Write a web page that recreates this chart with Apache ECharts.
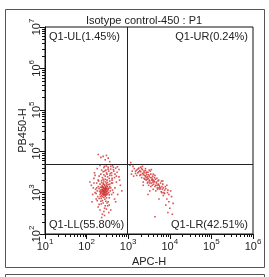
<!DOCTYPE html>
<html>
<head>
<meta charset="utf-8">
<script src="https://cdn.jsdelivr.net/npm/echarts@6/dist/echarts.min.js"></script>
<style>
    html, body {
        margin: 0;
        padding: 0;
        background: #fff;
    }
    #dot_ref {
        width: 269px;
        height: 277px;
    }
</style>
</head>
<body>
<div id="dot_ref"></div>
<script>
// 标题和坐标轴
const plotTitle = 'Isotype control-450 : P1';
const xName = 'APC-H';
const yName = 'PB450-H';
const xRange = [10, 1000000];
const yRange = [100, 10000000];
const minorSteps = [2, 3, 4, 5, 6, 7, 8, 9];

// 十字门
const gateX = 950;
const gateY = 4900;
const quadNames = ['Q1-UL', 'Q1-UR', 'Q1-LL', 'Q1-LR'];
const quadPct = ['1.45', '0.24', '55.80', '42.51'];

// Q1-LL 细胞
const llPoints = [
    [260,1100],[240,980],[280,1200],[300,1050],[220,1150],[270,900],[250,1300],[310,1250],[230,850],[290,1400],
    [265,1020],[245,1180],[275,1080],[255,940],[285,1320],[215,1010],[325,1120],[235,1450],[305,880],[260,760],
    [200,1250],[340,1000],[270,1550],[225,720],[295,960],[250,1600],[315,1380],[210,900],[280,820],[240,1080],
    [265,1230],[290,1130],[230,1320],[255,1050],[320,940],[205,1080],[345,1280],[275,690],[245,1380],[300,1180],
    [260,870],[285,1000],[235,1180],[270,1470],[310,1050],[220,960],[250,1140],[295,1270],[240,800],[330,1200],
    [255,1700],[275,1260],[225,1040],[290,880],[265,950],[215,1350],[305,1500],[245,910],[280,1150],[260,1320],
    [280,2100],[320,2400],[260,2700],[350,2200],[300,3000],[400,2600],[240,2300],[450,3300],[380,3700],[290,3500],
    [330,4100],[500,3900],[270,4300],[420,4500],[360,1900],[230,1950],[310,2800],[470,2300],[250,3200],[550,4200],
    [200,2500],[340,3300],[410,2000],[600,3600],[180,3800],[290,1800],[370,2900],[440,4100],[210,4500],[320,1750],
    [130,1500],[150,2200],[140,900],[165,1200],[120,1800],[170,700],[155,3000],[135,600],[175,1700],[160,2600],
    [145,1300],[480,1300],[560,900],[520,1800],[650,1500],[470,700],[600,2400],[700,1100],[540,3100],[500,600],
    [620,2000],[250,560],[280,480],[220,620],[300,400],[200,520],[330,600],[260,350],[190,450],[350,500],
    [240,300],[310,560],[270,420],[180,640],[380,380],[230,250],[290,620],
    [180,1100],[190,1400],[380,1300],[400,900],[360,1600],[170,950],[420,1150],[185,800],[395,1700],[350,750],
    [210,1600],[230,1750],[330,1550],[370,1100],[195,1900],[260,1900],[300,1650],[240,640],[350,880],[200,720],
    [280,2500],[310,2000],[250,2100],[360,2600],[220,2800],[270,3300],[400,3000],[330,3700],[300,4400],[440,3600],
    [230,3500],[380,4300],[260,4000],[480,2800],[520,2500],[420,1700],[440,1000],[160,1000],[150,1700],[190,2000],
    [225,530],[320,480],[210,380],[270,280],[340,330],[300,750],[215,800],[360,1400],[175,1300],[410,2200]
];

// Q1-UL 细胞
const ulPoints = [
    [250,7500],[300,7900],[220,7100],[330,6800],[280,6200],[360,5600],[190,8300]
];

// Q1-LR 细胞
const lrPoints = [
    [1600,3500],[1800,3900],[2000,3200],[2200,3600],[1500,2900],[2400,3000],[2600,3400],[1900,2600],[2800,2700],[3000,3100],
    [2100,2300],[3200,2500],[2500,2100],[3500,2800],[2700,2000],[3000,2200],[3300,1900],[3700,2300],[4000,2000],[2900,1700],
    [3600,1700],[4200,1800],[3100,1500],[4500,2100],[3800,1500],[4800,1700],[5200,1900],[4400,1400],[5500,1500],[6000,1700],
    [5000,1300],[6500,1400],[5800,1200],[7000,1300],[6200,1050],[7500,1150],[4600,1100],[8000,1250],[2300,2700],[1700,3000],
    [2000,4100],[2600,3800],[3400,3300],[1400,3800],[2300,1800],[3900,2500],[4300,2300],[2900,2400],[3500,1400],[5300,1600],
    [4100,1600],[2800,3100],[1900,3400],[3200,2000],[3700,2000],[2600,2500],[4900,2200],[5700,1400],[6800,1600],[8500,1500],
    [2200,4300],[3600,3600],[1600,2600],[2400,2200],[3000,1800],[4400,2600],[5100,1200],[6300,1900],[7200,1000],[9000,1150],
    [7000,850],[8500,700],[9500,600],[11000,800],[8000,500],[10000,420],[12000,550],[9000,330],[11500,300],[7500,950],
    [4400,260],[5500,700],[3000,900],[1100,4600],[1300,4300],[1250,3300],[1350,2500],[1200,2800],
    [1700,3700],[2100,3800],[2400,3300],[2700,3000],[3100,2700],[3400,2300],[3800,2100],[4200,1900],[4700,1800],[5000,1500],
    [5500,1300],[6000,1300],[6600,1200],[1500,3300],[1800,3200],[2200,2900],[2500,2600],[2900,2100],[3300,1700],[3900,1800],
    [4600,1500],[2000,2700],[2700,2300],[3200,3500],[4000,2800],[5400,2000],[6800,1900],[7800,1400],[8800,1000],[10500,1100],
    [9500,900],[6500,1000],[4000,1200],[3300,1100],[2300,1500]
];

// Q1-UR 细胞
const urPoints = [
    [1150,5300]
];

const dotColor = '#d02828';

const chartInstance = echarts.init(document.getElementById('dot_ref'));

// 10^n 标签
function powLabel(value) {
    return '{b|10}{s|' + Math.round(Math.log10(value)) + '}';
}

const labelRich = {
    b: { fontSize: 11, color: '#222', fontFamily: 'Liberation Sans', verticalAlign: 'bottom', lineHeight: 14 },
    s: { fontSize: 8, color: '#222', fontFamily: 'Liberation Sans', verticalAlign: 'top', lineHeight: 10 }
};

// 次刻度
const xMinor = [];
const yMinor = [];
for (let e = 1; e < 6; e++) {
    minorSteps.forEach(k => xMinor.push([k * Math.pow(10, e), yRange[0]]));
}
for (let e = 2; e < 7; e++) {
    minorSteps.forEach(k => yMinor.push([xRange[0], k * Math.pow(10, e)]));
}

function dotSeries(points) {
    return {
        type: 'scatter',
        data: points,
        symbol: 'rect',
        symbolSize: 1.6,
        itemStyle: { color: dotColor },
        silent: true,
        animation: false
    };
}

const options = {
    backgroundColor: '#fff',
    animation: false,
    textStyle: { fontFamily: 'Liberation Sans' },
    title: {
        text: plotTitle,
        left: 139,
        top: 10,
        textAlign: 'center',
        textStyle: { fontSize: 11, fontWeight: 'normal', color: '#222', fontFamily: 'Liberation Sans' }
    },
    grid: {
        left: 45,
        right: 16,
        top: 27,
        bottom: 43,
        show: true,
        borderColor: '#111',
        borderWidth: 1
    },
    xAxis: {
        type: 'log',
        logBase: 10,
        min: xRange[0],
        max: xRange[1],
        splitNumber: 5,
        name: xName,
        nameLocation: 'middle',
        nameGap: 22,
        nameMoveOverlap: false,
        nameTextStyle: { fontSize: 11, color: '#222' },
        axisLine: { lineStyle: { color: '#111' } },
        axisTick: { inside: false, length: 5, lineStyle: { color: '#111' } },
        axisLabel: { margin: 4, formatter: powLabel, rich: labelRich },
        splitLine: { show: false }
    },
    yAxis: {
        type: 'log',
        logBase: 10,
        min: yRange[0],
        max: yRange[1],
        splitNumber: 5,
        name: yName,
        nameLocation: 'middle',
        nameRotate: 90,
        nameGap: 17,
        nameMoveOverlap: false,
        nameTextStyle: { fontSize: 11, color: '#222' },
        axisLine: { lineStyle: { color: '#111' } },
        axisTick: { inside: false, length: 5, lineStyle: { color: '#111' } },
        axisLabel: { margin: 3, rotate: 90, formatter: powLabel, rich: labelRich },
        splitLine: { show: false }
    },
    graphic: [
        // 外框
        { type: 'rect', shape: { x: 5.5, y: 9.5, width: 259, height: 258 }, style: { fill: 'none', stroke: '#555', lineWidth: 1 } },
        { type: 'rect', shape: { x: 5.5, y: 274.5, width: 259, height: 20 }, style: { fill: 'none', stroke: '#555', lineWidth: 1 } },
        // 象限标签
        { type: 'text', left: 49, top: 31, style: { text: quadNames[0] + '(' + quadPct[0] + '%)', fontSize: 11, fill: '#222', fontFamily: 'Liberation Sans' } },
        { type: 'text', right: 21, top: 31, style: { text: quadNames[1] + '(' + quadPct[1] + '%)', fontSize: 11, fill: '#222', fontFamily: 'Liberation Sans' } },
        { type: 'text', left: 49, top: 219, style: { text: quadNames[2] + '(' + quadPct[2] + '%)', fontSize: 11, fill: '#222', fontFamily: 'Liberation Sans' } },
        { type: 'text', right: 21, top: 219, style: { text: quadNames[3] + '(' + quadPct[3] + '%)', fontSize: 11, fill: '#222', fontFamily: 'Liberation Sans' } }
    ],
    series: [
        dotSeries(llPoints),
        dotSeries(ulPoints),
        dotSeries(lrPoints),
        dotSeries(urPoints),
        {
            // 十字门
            type: 'scatter',
            data: [],
            markLine: {
                silent: true,
                symbol: 'none',
                animation: false,
                label: { show: false },
                lineStyle: { color: '#222', type: 'solid', width: 1 },
                data: [{ xAxis: gateX }, { yAxis: gateY }]
            }
        },
        {
            // x 次刻度
            type: 'custom',
            clip: false,
            silent: true,
            data: xMinor,
            renderItem: (params, api) => {
                const p = api.coord([api.value(0), api.value(1)]);
                return {
                    type: 'line',
                    shape: { x1: Math.round(p[0]) + 0.5, y1: p[1], x2: Math.round(p[0]) + 0.5, y2: p[1] + 3 },
                    style: { stroke: '#111', lineWidth: 1 }
                };
            }
        },
        {
            // y 次刻度
            type: 'custom',
            clip: false,
            silent: true,
            data: yMinor,
            renderItem: (params, api) => {
                const p = api.coord([api.value(0), api.value(1)]);
                return {
                    type: 'line',
                    shape: { x1: p[0], y1: Math.round(p[1]) + 0.5, x2: p[0] - 3, y2: Math.round(p[1]) + 0.5 },
                    style: { stroke: '#111', lineWidth: 1 }
                };
            }
        }
    ]
};

chartInstance.setOption(options);
</script>
</body>
</html>
